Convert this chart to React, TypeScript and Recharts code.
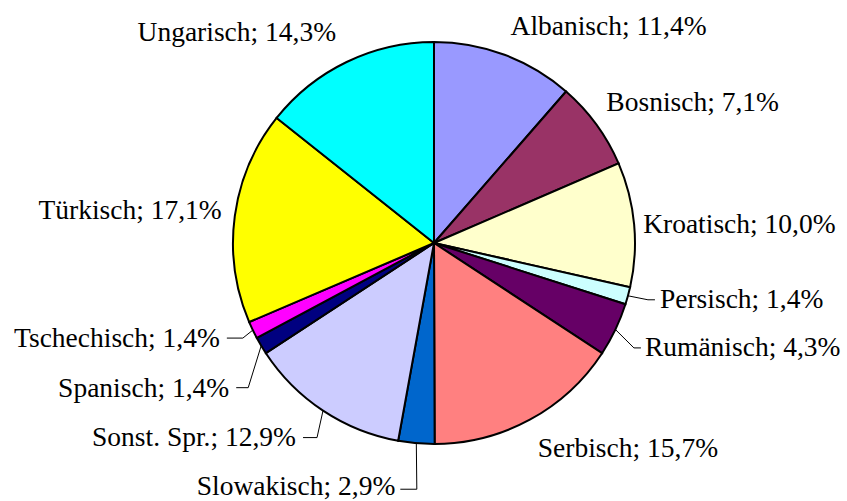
import React from "react";
import { PieChart, Pie, Cell } from "recharts";

const languages = [
  "Albanisch",
  "Bosnisch",
  "Kroatisch",
  "Persisch",
  "Rumänisch",
  "Serbisch",
  "Slowakisch",
  "Sonst. Spr.",
  "Spanisch",
  "Tschechisch",
  "Türkisch",
  "Ungarisch",
];

const shares = [11.4, 7.1, 10.0, 1.4, 4.3, 15.7, 2.9, 12.9, 1.4, 1.4, 17.1, 14.3];

const sliceColors = [
  "#9999FF",
  "#993366",
  "#FFFFCC",
  "#CCFFFF",
  "#660066",
  "#FF8080",
  "#0066CC",
  "#CCCCFF",
  "#000080",
  "#FF00FF",
  "#FFFF00",
  "#00FFFF",
];

// label layout relative to the slice's outer mid point (style, not data)
type Layout = {
  anchor: "start" | "end";
  tx: number;
  ty: number;
  leader?: [number, number, number, number];
};
const labelLayout: Layout[] = [
  { anchor: "start", tx: 6, ty: -20 },
  { anchor: "start", tx: 10, ty: -13 },
  { anchor: "start", tx: 9, ty: 9 },
  { anchor: "start", tx: 32, ty: 12, leader: [20, 4, 27, 4] },
  { anchor: "start", tx: 29.5, ty: 26.4, leader: [18.5, 18.4, 25.5, 18.4] },
  { anchor: "start", tx: 8, ty: 37 },
  { anchor: "end", tx: -21, ty: 51.5, leader: [0.5, 46, -16, 46] },
  { anchor: "end", tx: -27, ty: 35, leader: [-6, 27, -20, 27] },
  { anchor: "end", tx: -32, ty: 51, leader: [-13, 42, -25, 42] },
  { anchor: "end", tx: -33, ty: 17, leader: [-10, 8, -26, 8] },
  { anchor: "end", tx: -13, ty: 3 },
  { anchor: "end", tx: -10.5, ty: -21 },
];

const data = languages.map((name, i) => ({ name, value: shares[i] }));

const RAD = Math.PI / 180;

const renderLabel = (props: any) => {
  const { cx, cy, midAngle, outerRadius, index } = props;
  const ex = cx + outerRadius * Math.cos(-midAngle * RAD);
  const ey = cy + outerRadius * Math.sin(-midAngle * RAD);
  const l = labelLayout[index];
  const text = `${languages[index]}; ${shares[index].toFixed(1).replace(".", ",")}%`;
  return (
    <g key={`lbl-${index}`}>
      {l.leader && (
        <polyline
          points={`${ex},${ey} ${ex + l.leader[0]},${ey + l.leader[1]} ${ex + l.leader[2]},${ey + l.leader[3]}`}
          fill="none"
          stroke="#000"
          strokeWidth={1}
        />
      )}
      <text
        x={ex + l.tx}
        y={ey + l.ty}
        textAnchor={l.anchor}
        fontFamily="'Liberation Serif', 'Times New Roman', serif"
        fontSize={27.5}
        fill="#000"
      >
        {text}
      </text>
    </g>
  );
};

export default function App() {
  return (
    <div style={{ position: "absolute", left: 0, top: 0, width: 847, height: 501, background: "#fff" }}>
      <PieChart width={847} height={501} margin={{ top: 0, right: 0, bottom: 0, left: 0 }}>
        <Pie
          data={data}
          dataKey="value"
          nameKey="name"
          cx={434}
          cy={243}
          outerRadius={201}
          startAngle={90}
          endAngle={-270}
          stroke="#000"
          strokeWidth={2}
          label={renderLabel}
          labelLine={false}
          isAnimationActive={false}
        >
          {data.map((d, i) => (
            <Cell key={d.name} fill={sliceColors[i]} stroke="#000" strokeWidth={2} />
          ))}
        </Pie>
      </PieChart>
    </div>
  );
}
